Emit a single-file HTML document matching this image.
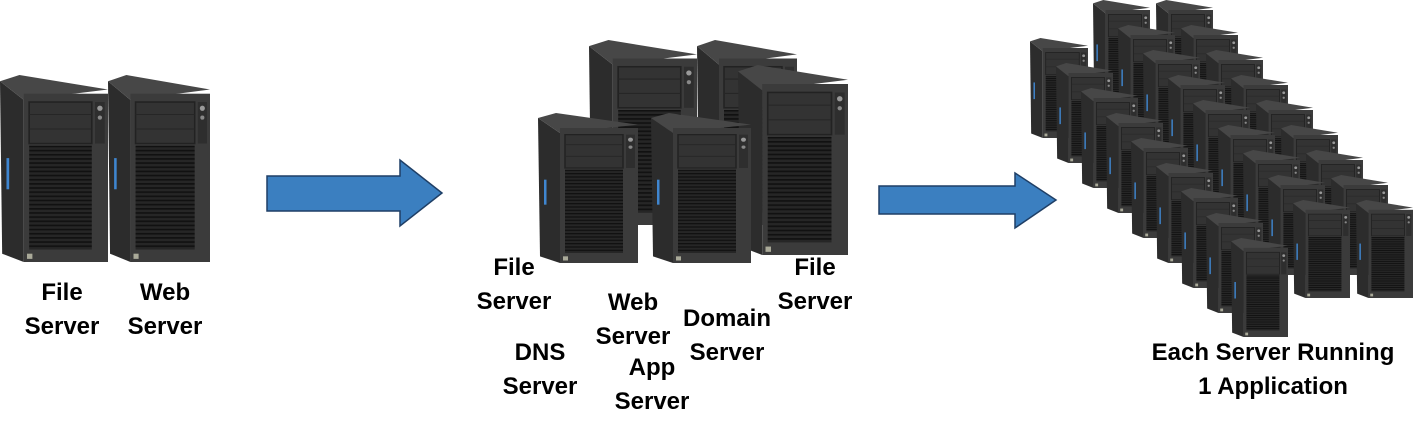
<!DOCTYPE html>
<html><head><meta charset="utf-8"><style>
html,body{margin:0;padding:0;background:#fff}
body{width:1420px;height:436px;position:relative;overflow:hidden;font-family:"Liberation Sans",Arial,sans-serif}
svg{position:absolute;left:0;top:0}
.l{position:absolute;font-weight:bold;font-size:24px;line-height:34px;text-align:center;color:#000;white-space:nowrap;transform:translateX(-50%)}
</style></head><body>
<svg width="1420" height="436" viewBox="0 0 1420 436">
<defs>
<pattern id="gr" width="4" height="4" patternUnits="userSpaceOnUse"><rect width="4" height="4" fill="#262626"/><rect width="4" height="1.6" fill="#111"/></pattern>
<symbol id="sv" viewBox="0 0 100 180" preserveAspectRatio="none">
<polygon points="0,6 22,24 22,180 2,172" fill="#2c2c2c"/>
<polygon points="0,6 18,0 100,14 22,24" fill="#474747"/>
<rect x="22" y="18" width="78" height="162" fill="#3b3b3b"/>
<rect x="27" y="26" width="58" height="40" fill="#333" stroke="#222" stroke-width="1.5"/>
<line x1="27" y1="38" x2="85" y2="38" stroke="#262626" stroke-width="1"/>
<line x1="27" y1="52" x2="85" y2="52" stroke="#262626" stroke-width="1"/>
<rect x="88" y="26" width="9" height="40" fill="#2e2e2e"/>
<circle cx="92.5" cy="32" r="2.5" fill="#999"/>
<circle cx="92.5" cy="41" r="2" fill="#888"/>
<rect x="27" y="68" width="58" height="100" fill="url(#gr)"/>
<rect x="25" y="172" width="5" height="5" fill="#aa9"/>
<rect x="6" y="80" width="2.5" height="30" fill="#3f86d0"/>
</symbol>
</defs>
<!-- left -->
<use href="#sv" x="0" y="75" width="108" height="187"/>
<use href="#sv" x="108" y="75" width="102" height="187"/>
<!-- middle -->
<use href="#sv" x="589" y="40" width="108" height="185"/>
<use href="#sv" x="697" y="40" width="100" height="185"/>
<use href="#sv" x="738" y="65" width="110" height="190"/>
<use href="#sv" x="538" y="113" width="100" height="150"/>
<use href="#sv" x="651" y="113" width="100" height="150"/>
<!-- arrows -->
<polygon points="267,176 400,176 400,160 442,193 400,226 400,211 267,211" fill="#3b7fc0" stroke="#1f3f66" stroke-width="1.5"/>
<polygon points="879,186 1015,186 1015,173 1056,200 1015,228 1015,214 879,214" fill="#3b7fc0" stroke="#1f3f66" stroke-width="1.5"/>
<!-- right grid -->
<use href="#sv" x="1093" y="0" width="57" height="100"/>
<use href="#sv" x="1156" y="0" width="57" height="100"/>
<use href="#sv" x="1118" y="25" width="57" height="100"/>
<use href="#sv" x="1181" y="25" width="57" height="100"/>
<use href="#sv" x="1030" y="38" width="58" height="100"/>
<use href="#sv" x="1143" y="50" width="57" height="100"/>
<use href="#sv" x="1206" y="50" width="57" height="100"/>
<use href="#sv" x="1056" y="63" width="57" height="100"/>
<use href="#sv" x="1168" y="75" width="57" height="100"/>
<use href="#sv" x="1231" y="75" width="57" height="100"/>
<use href="#sv" x="1081" y="88" width="57" height="100"/>
<use href="#sv" x="1193" y="100" width="57" height="100"/>
<use href="#sv" x="1256" y="100" width="57" height="100"/>
<use href="#sv" x="1106" y="113" width="57" height="100"/>
<use href="#sv" x="1218" y="125" width="57" height="100"/>
<use href="#sv" x="1281" y="125" width="57" height="100"/>
<use href="#sv" x="1131" y="138" width="57" height="100"/>
<use href="#sv" x="1243" y="150" width="57" height="100"/>
<use href="#sv" x="1306" y="150" width="57" height="100"/>
<use href="#sv" x="1156" y="163" width="57" height="100"/>
<use href="#sv" x="1268" y="175" width="57" height="100"/>
<use href="#sv" x="1331" y="175" width="57" height="100"/>
<use href="#sv" x="1181" y="188" width="57" height="100"/>
<use href="#sv" x="1293" y="200" width="57" height="98"/>
<use href="#sv" x="1356" y="200" width="57" height="98"/>
<use href="#sv" x="1206" y="213" width="57" height="100"/>
<use href="#sv" x="1231" y="238" width="57" height="99"/>
</svg>
<div class="l" style="left:62px;top:276px">File<br>Server</div>
<div class="l" style="left:165px;top:276px">Web<br>Server</div>
<div class="l" style="left:514px;top:251px">File<br>Server</div>
<div class="l" style="left:633px;top:286px">Web<br>Server</div>
<div class="l" style="left:540px;top:336px">DNS<br>Server</div>
<div class="l" style="left:652px;top:351px">App<br>Server</div>
<div class="l" style="left:727px;top:302px">Domain<br>Server</div>
<div class="l" style="left:815px;top:251px">File<br>Server</div>
<div class="l" style="left:1273px;top:336px">Each Server Running<br>1 Application</div>
</body></html>
